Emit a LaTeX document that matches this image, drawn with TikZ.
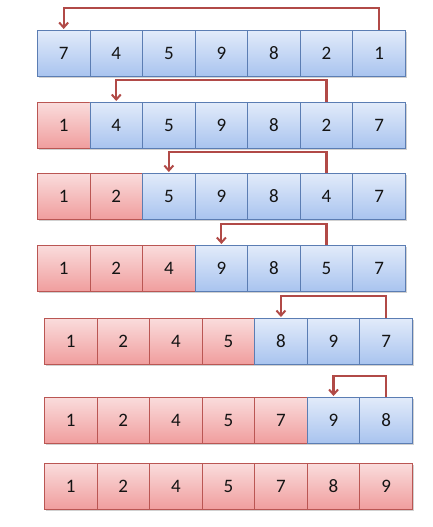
\documentclass[tikz,border=0pt]{standalone}
\usepackage{fontspec}
\setmainfont{Carlito}
\usetikzlibrary{arrows.meta}
\definecolor{bluetop}{HTML}{E2EBFA}
\definecolor{bluebot}{HTML}{A9C4EF}
\definecolor{blueline}{HTML}{5B7DB3}
\definecolor{redtop}{HTML}{FADCDC}
\definecolor{redbot}{HTML}{F09E9E}
\definecolor{redline}{HTML}{BA5653}
\definecolor{arrowred}{HTML}{B14A47}
\definecolor{txt}{HTML}{141414}
\tikzset{
  cellbase/.style={rectangle, anchor=north west, inner sep=0pt,
    minimum width=52.57pt, minimum height=45.5pt, line width=0.8pt,
    font=\fontsize{19}{19}\selectfont, text=txt},
  bluecell/.style={cellbase, draw=blueline, top color=bluetop, bottom color=bluebot},
  redcell/.style={cellbase, draw=redline, top color=redtop, bottom color=redbot},
  rowshadow/.style={fill=black, opacity=0.18},
  swaparrow/.style={draw=arrowred, line width=2.2pt, line join=miter,
    -{Straight Barb[length=5pt,width=9pt,line width=2pt]}, shorten >=1pt}
}
\begin{document}
\begin{tikzpicture}[x=1pt,y=1pt]
\useasboundingbox (0,0) rectangle (432,-527);
% rows: index / left x / top y / number of red cells / values
\foreach \r/\lx/\ty/\k/\vals in {
  1/37/30/0/{7,4,5,9,8,2,1},
  2/37/102/1/{1,4,5,9,8,2,7},
  3/37/173/2/{1,2,5,9,8,4,7},
  4/37/245/3/{1,2,4,9,8,5,7},
  5/44/318/4/{1,2,4,5,8,9,7},
  6/44/397/5/{1,2,4,5,7,9,8},
  7/44/463/7/{1,2,4,5,7,8,9}}{
  \fill[rowshadow] (\lx+1.5,-\ty-2) rectangle (\lx+368+2,-\ty-45.5-2.5);
  \foreach \v [count=\i] in \vals {
    \ifnum\i>\k
      \node[bluecell] (r\r-\i) at ({\lx+(\i-1)*52.57},-\ty) {\v};
    \else
      \node[redcell] (r\r-\i) at ({\lx+(\i-1)*52.57},-\ty) {\v};
    \fi
  }
}
% swap arrows
\draw[swaparrow] (r1-7.north) -- ++(0,22) -| (r1-1.north);
\draw[swaparrow] (r2-6.north) -- ++(0,22) -| (r2-2.north);
\draw[swaparrow] (r3-6.north) -- ++(0,21) -| (r3-3.north);
\draw[swaparrow] (r4-6.north) -- ++(0,21) -| (r4-4.north);
\draw[swaparrow] (r5-7.north) -- ++(0,22) -| (r5-5.north);
\draw[swaparrow] (r6-7.north) -- ++(0,21) -| (r6-6.north);
\end{tikzpicture}
\end{document}
